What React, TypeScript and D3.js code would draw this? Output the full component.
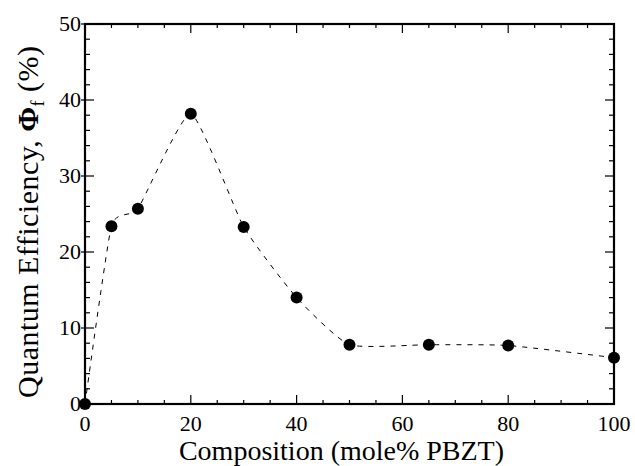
import * as d3 from "d3";

const composition = [0, 5, 10, 20, 30, 40, 50, 65, 80, 100];
const efficiency = [0, 23.4, 25.7, 38.2, 23.3, 14.0, 7.8, 7.8, 7.7, 6.1];
const xTicks = [0, 20, 40, 60, 80, 100];
const yTicks = [0, 10, 20, 30, 40, 50];

const W = 635;
const H = 466;
const margin = { left: 85, right: 21, top: 24, bottom: 62 };
const font = "Liberation Serif";

export default function App() {
  const x = d3.scaleLinear().domain([0, 100]).range([margin.left, W - margin.right]);
  const y = d3.scaleLinear().domain([0, 50]).range([H - margin.bottom, margin.top]);

  const pts = composition.map((c, i) => [c, efficiency[i]] as [number, number]);
  const line = d3
    .line<[number, number]>()
    .x((d) => x(d[0]))
    .y((d) => y(d[1]))
    .curve(d3.curveCardinal.tension(0.5));

  const xMinor = d3.range(0, 101, 5);
  const yMinor = d3.range(0, 51, 2);

  return (
    <svg
      width={W}
      height={H}
      style={{ position: "absolute", left: 0, top: 0, background: "#fff" }}
    >
      <g stroke="#000" strokeWidth={1.2}>
        {xMinor.map((v) => {
          const len = v % 20 === 0 ? 9 : 4;
          return (
            <g key={"x" + v}>
              <line x1={x(v)} x2={x(v)} y1={y(0)} y2={y(0) - len} />
              <line x1={x(v)} x2={x(v)} y1={y(50)} y2={y(50) + len} />
            </g>
          );
        })}
        {yMinor.map((v) => {
          const major = v % 10 === 0;
          const len = major ? 9 : 5;
          return (
            <g key={"y" + v}>
              <line x1={x(0) - (major ? 4 : 0)} x2={x(0) + len} y1={y(v)} y2={y(v)} />
              <line x1={x(100)} x2={x(100) - len} y1={y(v)} y2={y(v)} />
            </g>
          );
        })}
      </g>

      <rect
        x={x(0)}
        y={y(50)}
        width={x(100) - x(0)}
        height={y(0) - y(50)}
        fill="none"
        stroke="#000"
        strokeWidth={2.2}
      />

      {xTicks.map((d) => (
        <text
          key={"xt" + d}
          x={x(d)}
          y={y(0) + 27}
          textAnchor="middle"
          fontSize={22}
          style={{ fontFamily: font }}
        >
          {d}
        </text>
      ))}
      {yTicks.map((d) => (
        <text
          key={"yt" + d}
          x={x(0) - 4}
          y={y(d) + 7}
          textAnchor="end"
          fontSize={22}
          style={{ fontFamily: font }}
        >
          {d}
        </text>
      ))}

      <path
        d={line(pts) ?? ""}
        fill="none"
        stroke="#000"
        strokeWidth={1}
        strokeDasharray="5,6"
      />
      {pts.map((d) => (
        <circle key={"p" + d[0]} cx={x(d[0])} cy={y(d[1])} r={6} fill="#000" />
      ))}

      <text
        x={(x(0) + x(100)) / 2 - 8}
        y={460}
        textAnchor="middle"
        fontSize={28}
        style={{ fontFamily: font }}
      >
        Composition (mole% PBZT)
      </text>

      <text
        transform={`translate(38, ${(y(0) + y(50)) / 2 + 8}) rotate(-90)`}
        textAnchor="middle"
        fontSize={30}
        textLength={352}
        lengthAdjust="spacing"
        style={{ fontFamily: font }}
      >
        <tspan>Quantum Efficiency, </tspan>
        <tspan fontWeight="bold">Φ</tspan>
        <tspan dy={6} fontSize={18}>f</tspan>
        <tspan dy={-6}> (%)</tspan>
      </text>
    </svg>
  );
}
